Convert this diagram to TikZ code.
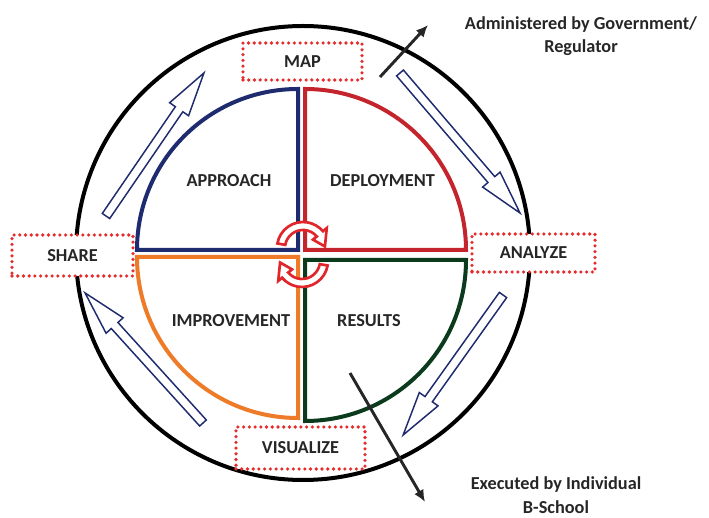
\documentclass[tikz,border=0pt]{standalone}
\usepackage{fontspec}
\setmainfont{Carlito}
\usetikzlibrary{arrows.meta}
\definecolor{navyq}{HTML}{1E2B6E}
\definecolor{redq}{HTML}{C4242B}
\definecolor{orangeq}{HTML}{EE7B27}
\definecolor{greenq}{HTML}{0B3A1C}
\definecolor{boxred}{HTML}{E52D2D}
\definecolor{cred}{HTML}{E0252B}
\definecolor{txt}{HTML}{262626}
\tikzset{
  lbl/.style={font=\bfseries\fontsize{13.7}{17}\selectfont, text=txt},
  dotbox/.style={draw=boxred, fill=white, line width=2.7pt, line cap=round,
    dash pattern=on 0pt off 4.3pt, lbl, inner sep=0pt},
  hollow/.style={draw=navyq, fill=white, line width=1.1pt},
  cyc/.style={draw=cred, fill=white, line width=2pt},
  quad/.style={line width=3pt},
  blk/.style={draw=txt, line width=2.2pt, -{Latex[length=9pt,width=8pt]}}
}
\begin{document}
\begin{tikzpicture}[x=0.75pt,y=0.75pt]
\useasboundingbox (0,0) rectangle (709,517);
% outer ring
\draw[line width=3pt, black] (303,264) circle[radius=227];
% hollow arrows along the ring
\foreach \tx/\ty/\L/\a in {106/301/173.4/55.6, 400/444/184.4/-49.4, 503/222/172.0/234.5, 203/94/175.6/132.2}{
  \draw[hollow, shift={(\tx,\ty)}, rotate=\a]
    (0,-4.5) -- (\L-44,-4.5) -- (\L-44,-11.5) -- (\L,0) -- (\L-44,11.5) -- (\L-44,4.5) -- (0,4.5) -- cycle;
}
% quadrants
\draw[quad, navyq] (298,428) -- (298,267) -- (137,267) arc[start angle=180, end angle=90, radius=161] -- cycle;
\draw[quad, redq] (305,428) -- (305,267) -- (466,267) arc[start angle=0, end angle=90, radius=161] -- cycle;
\draw[quad, orangeq] (137,260) -- (298,260) -- (298,99) arc[start angle=270, end angle=180, radius=161] -- cycle;
\draw[quad, greenq] (305,96) -- (305,257) -- (466,257) arc[start angle=0, end angle=-90, radius=161] -- cycle;
% cycle arrows in the centre
\begin{scope}[shift={(303,269)}]
  \draw[cyc] (170:26) arc[start angle=170, end angle=40, radius=26] -- (40:31) -- (4:22) -- (40:13) -- (40:18) arc[start angle=40, end angle=170, radius=18] -- cycle;
\end{scope}
\begin{scope}[shift={(302,256)}, rotate=180]
  \draw[cyc] (170:26) arc[start angle=170, end angle=40, radius=26] -- (40:31) -- (4:22) -- (40:13) -- (40:18) arc[start angle=40, end angle=170, radius=18] -- cycle;
\end{scope}
% quadrant labels
\node[lbl] (approach) at (229,336) {APPROACH};
\node[lbl] (deploy) at (382.5,336) {DEPLOYMENT};
\node[lbl] (improve) at (231,196) {IMPROVEMENT};
\node[lbl] (results) at (369,196) {RESULTS};
% dotted boxes
\node[dotbox, minimum width=119*0.75pt, minimum height=37*0.75pt] (map) at (302.5,455.5) {MAP};
\node[dotbox, minimum width=121*0.75pt, minimum height=41*0.75pt] (share) at (72.5,261.5) {SHARE};
\node[dotbox, minimum width=123*0.75pt, minimum height=38*0.75pt] (analyze) at (533.5,264) {ANALYZE};
\node[dotbox, minimum width=129*0.75pt, minimum height=42*0.75pt] (visualize) at (300.5,69) {VISUALIZE};
% outside texts
\node[lbl, align=center, font=\bfseries\fontsize{13.7}{17.25}\selectfont] (gov) at (581,480.5) {Administered by Government/\\Regulator};
\node[lbl, align=center, font=\bfseries\fontsize{13.7}{17.5}\selectfont] (school) at (556,22) {Executed by Individual\\B-School};
% black arrows
\coordinate (govS) at (380,440);
\coordinate (govE) at (428,492);
\coordinate (schS) at (350,144);
\coordinate (schE) at (425,15);
\draw[blk] (govS) -- (govE);
\draw[blk] (schS) -- (schE);
\end{tikzpicture}
\end{document}
